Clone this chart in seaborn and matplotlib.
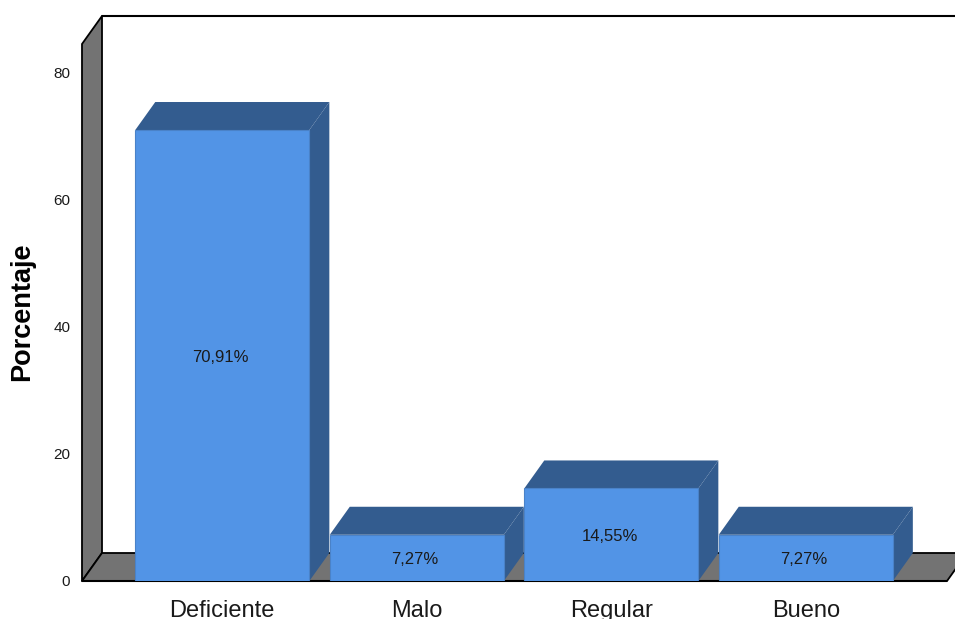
import matplotlib
matplotlib.use("Agg")
import matplotlib.pyplot as plt
from matplotlib.patches import Polygon
import seaborn as sns
import pandas as pd

categorias = ["Deficiente", "Malo", "Regular", "Bueno"]
porcentajes = [70.91, 7.27, 14.55, 7.27]
etiquetas = ["70,91%", "7,27%", "14,55%", "7,27%"]
ticks_y = [0, 20, 40, 60, 80]

sns.set_style("white")
plt.rcParams["font.family"] = ["Liberation Sans", "DejaVu Sans"]

FRENTE = "#5294e6"
OSCURO = "#335c8f"
GRIS = "#737373"
TEXTO = "#1a1a1a"

# tamano de la figura en pixeles, para colocar el eje a mano
W, H = 955, 619
fig = plt.figure(figsize=(W / 100, H / 100), dpi=100)
ax = fig.add_axes([82 / W, (H - 581) / H, (W - 82) / W, (581 - 16) / H])

df = pd.DataFrame({"categoria": categorias, "porcentaje": porcentajes})
sns.barplot(data=df, x="categoria", y="porcentaje", color=FRENTE, saturation=1,
            width=0.895, edgecolor="#4a82c8", linewidth=0.8, ax=ax, zorder=5)

# escala: 194.5 px por categoria, 6.36 px por unidad
ax.set_xlim((82 - 222.3) / 194.5, (955 - 222.3) / 194.5)
ax.set_ylim(0, 565 / 6.36)
dx = 20 / 194.5
dy = 28 / 6.36
x0, x1 = ax.get_xlim()
y1 = ax.get_ylim()[1]

# pared izquierda y suelo
ax.add_patch(Polygon([(x0, 0), (x0 + dx, dy), (x0 + dx, y1), (x0, y1 - dy)],
                     fc=GRIS, ec="black", lw=1.3, zorder=1, clip_on=False))
x_fin = (947 - 222.3) / 194.5
ax.add_patch(Polygon([(x0, 0), (x0 + dx, dy), (x_fin + dx, dy), (x_fin, 0)],
                     fc=GRIS, ec="black", lw=1.3, zorder=1, clip_on=True))
ax.plot([x0, x_fin], [0, 0], color="black", lw=1.5, zorder=2, clip_on=False)
ax.plot([x0 + dx, x1], [y1, y1], color="black", lw=1.5, zorder=2, clip_on=False)

# caras superior y lateral de cada barra
for bar, etiqueta in zip(ax.patches[:len(categorias)], etiquetas):
    xa = bar.get_x()
    xb = xa + bar.get_width()
    h = bar.get_height()
    ax.add_patch(Polygon([(xa, h), (xb, h), (xb + dx, h + dy), (xa + dx, h + dy)],
                         fc=OSCURO, ec="none", zorder=4))
    ax.add_patch(Polygon([(xb, 0), (xb + dx, dy), (xb + dx, h + dy), (xb, h)],
                         fc=OSCURO, ec="none", zorder=4))
    ax.annotate(etiqueta, (xa + bar.get_width() / 2, h / 2), xytext=(-1.2, -1.2),
                textcoords="offset points", ha="center", va="center",
                fontsize=12, color=TEXTO, zorder=6)

sns.despine(ax=ax, left=True, bottom=True, top=True, right=True)
ax.set_facecolor("white")
ax.set_yticks(ticks_y)
ax.set_yticklabels([str(t) for t in ticks_y], fontsize=11, color=TEXTO)
ax.tick_params(axis="y", length=0, pad=8.5)
ax.tick_params(axis="x", length=0, pad=13.5, labelsize=17, labelcolor=TEXTO)
ax.set_xlabel("")
ax.set_ylabel("Porcentaje", fontsize=19.5, fontweight="bold", color="black")
ax.yaxis.set_label_coords(-47 / (W - 82), (581 - 312) / 565)

fig.savefig("out.png", dpi=100)
